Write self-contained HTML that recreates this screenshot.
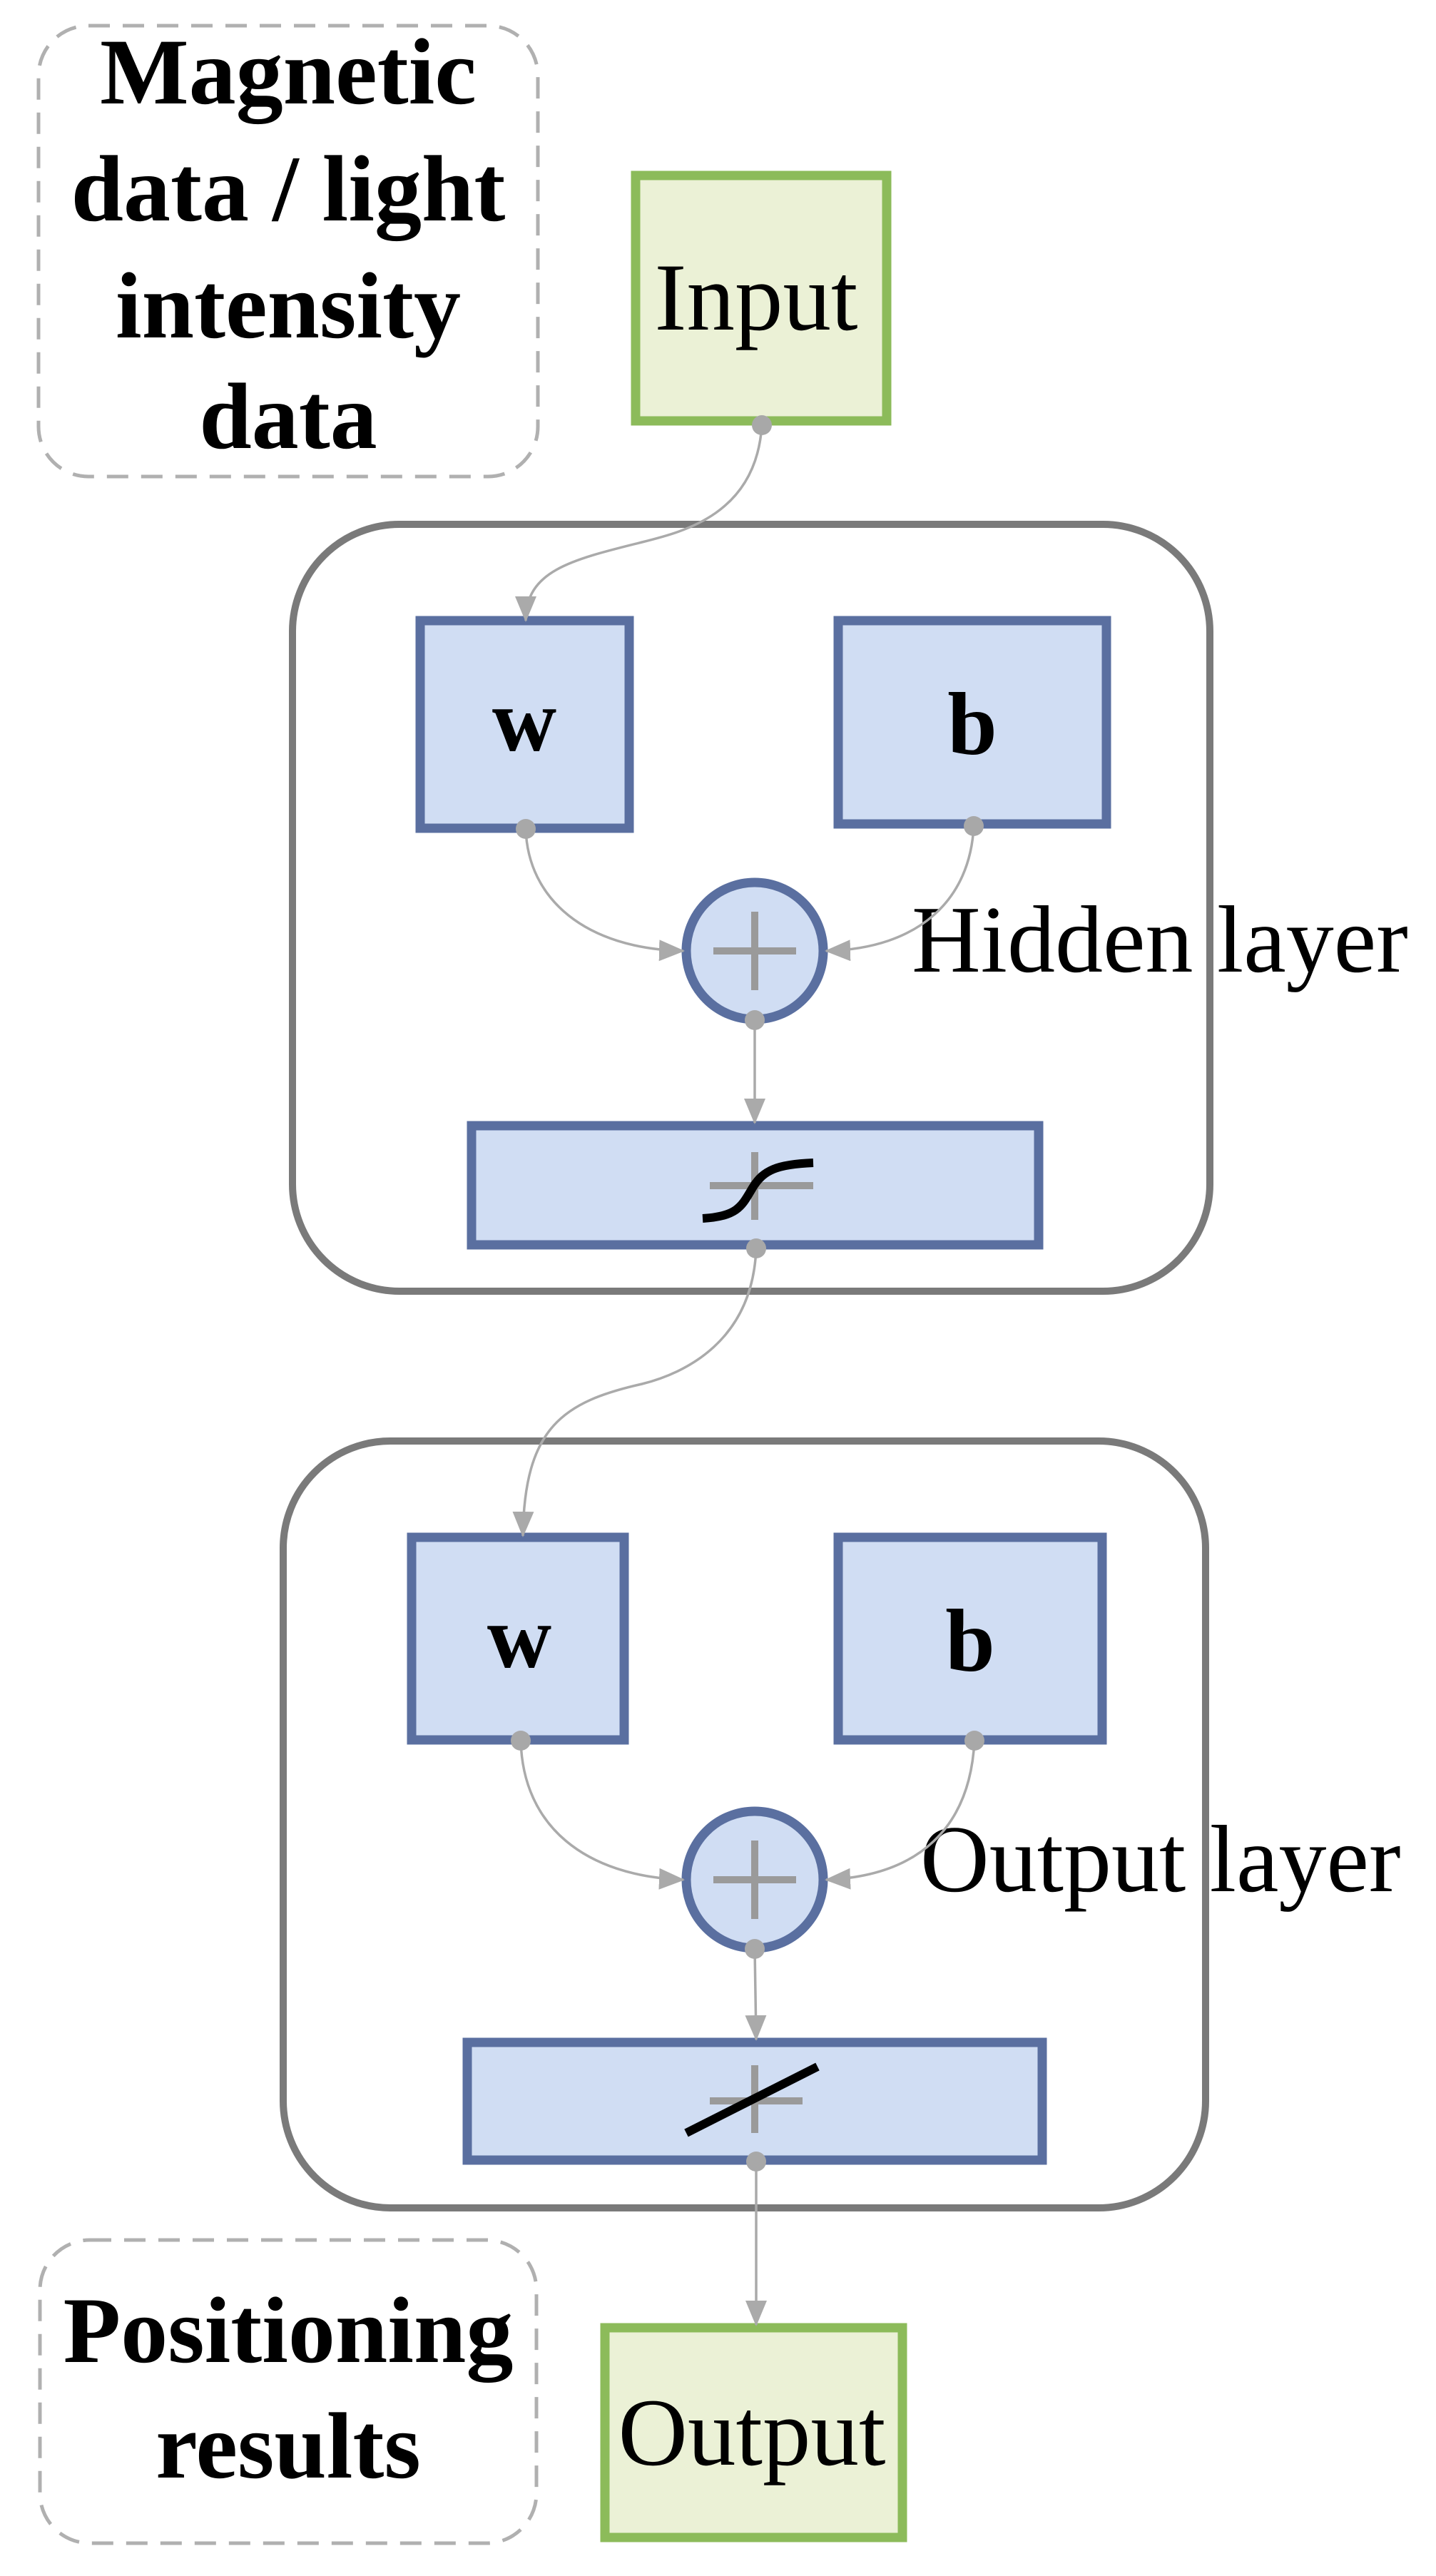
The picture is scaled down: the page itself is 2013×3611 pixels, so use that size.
<!DOCTYPE html>
<html><head><meta charset="utf-8"><style>html,body{margin:0;padding:0;background:#fff}svg{display:block}</style></head>
<body>
<svg width="2013" height="3611" viewBox="0 0 2013 3611" xmlns="http://www.w3.org/2000/svg" font-family="'Liberation Serif', serif">
<defs>
<marker id="arb" markerWidth="36" markerHeight="30" refX="34" refY="15" orient="auto" markerUnits="userSpaceOnUse"><path d="M0,0 L36,15 L0,30 z" fill="#aaa"/></marker>
</defs>
<rect x="54" y="36" width="700" height="632" rx="70" fill="none" stroke="#b0b0b0" stroke-width="5" stroke-dasharray="30,18"/>
<rect x="56" y="3140" width="696" height="425" rx="70" fill="none" stroke="#b0b0b0" stroke-width="5" stroke-dasharray="30,18"/>
<g font-weight="bold" font-size="132" text-anchor="middle" fill="#000">
<text x="404" y="145">Magnetic</text>
<text x="404" y="309">data / light</text>
<text x="404" y="473">intensity</text>
<text x="404" y="628">data</text>
<text x="404" y="3311">Positioning</text>
<text x="404" y="3473">results</text>
</g>
<rect x="410" y="735" width="1286" height="1075" rx="150" fill="none" stroke="#7a7a7a" stroke-width="10"/>
<rect x="397" y="2020" width="1293" height="1075" rx="150" fill="none" stroke="#7a7a7a" stroke-width="10"/>
<rect x="891" y="246" width="352" height="344" fill="#ebf1d6" stroke="#8cbb5a" stroke-width="13"/>
<text x="1060" y="462" font-size="135" text-anchor="middle">Input</text>
<rect x="848" y="3263" width="417" height="294" fill="#ebf1d6" stroke="#8cbb5a" stroke-width="13"/>
<text x="1054" y="3455" font-size="135" text-anchor="middle">Output</text>
<g fill="#d0ddf3" stroke="#5a6fa0" stroke-width="13">
<rect x="589" y="870" width="293" height="291"/>
<rect x="1175" y="870" width="376" height="285"/>
<circle cx="1058" cy="1333" r="96"/>
<rect x="661" y="1578" width="795" height="167"/>
<rect x="577" y="2155" width="298" height="284"/>
<rect x="1175" y="2155" width="370" height="284"/>
<circle cx="1058" cy="2635" r="96"/>
<rect x="655" y="2863" width="806" height="165"/>
</g>
<g font-weight="bold" font-size="125" text-anchor="middle">
<text x="735" y="1052">w</text>
<text x="1363" y="1057">b</text>
<text x="728" y="2337">w</text>
<text x="1360" y="2342">b</text>
</g>
<g font-size="134">
<text x="1278" y="1362">Hidden layer</text>
<text x="1290" y="2651">Output layer</text>
</g>
<g stroke="#9a9a9a" stroke-width="10" fill="none">
<path d="M1000,1333 H1116 M1058,1278 V1388"/>
<path d="M1000,2635 H1116 M1058,2580 V2690"/>
<path d="M995,1662 H1140 M1058,1615 V1710"/>
<path d="M995,2945 H1125 M1058,2895 V2990"/>
</g>
<path d="M985,1708 C1035,1705 1040,1690 1055,1665 C1070,1640 1090,1632 1140,1630" stroke="#000" stroke-width="12" fill="none"/>
<path d="M962,2990 L1146,2897" stroke="#000" stroke-width="12" fill="none"/>
<g stroke="#aaa" stroke-width="3.5" fill="none" marker-end="url(#arb)">
<path d="M1068,596 C1060,720 960,745 900,760 C800,785 737,800 737,870"/>
<path d="M737,1162 C740,1260 820,1330 958,1333"/>
<path d="M1365,1158 C1360,1260 1290,1330 1158,1333"/>
<path d="M1058,1430 L1058,1574"/>
<path d="M1060,1750 C1055,1880 960,1925 900,1940 C790,1965 735,2000 733,2153"/>
<path d="M730,2440 C733,2560 820,2630 958,2635"/>
<path d="M1366,2440 C1360,2560 1290,2630 1158,2635"/>
<path d="M1058,2732 L1060,2859"/>
<path d="M1060,3030 L1060,3259"/>
</g>
<g fill="#a8a8a8">
<circle cx="1068" cy="596" r="14"/>
<circle cx="737" cy="1162" r="14"/>
<circle cx="1365" cy="1158" r="14"/>
<circle cx="1058" cy="1430" r="14"/>
<circle cx="1060" cy="1750" r="14"/>
<circle cx="730" cy="2440" r="14"/>
<circle cx="1366" cy="2440" r="14"/>
<circle cx="1058" cy="2732" r="14"/>
<circle cx="1060" cy="3030" r="14"/>
</g>
</svg>
</body></html>
